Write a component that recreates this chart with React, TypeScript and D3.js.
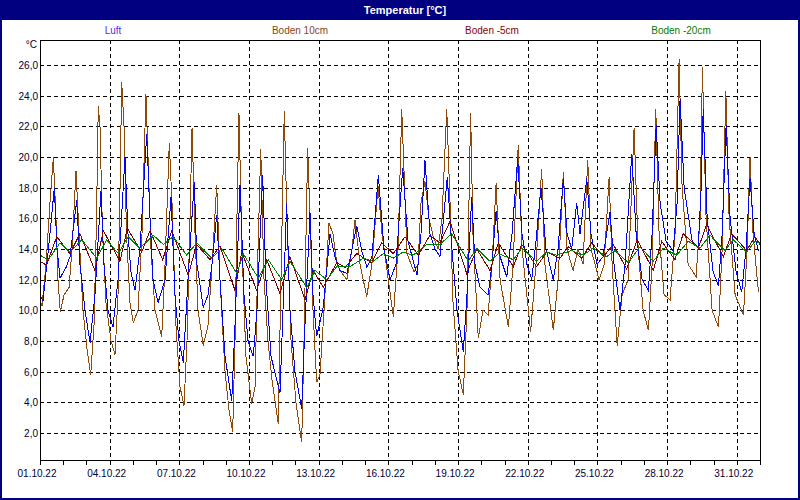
import React, { useEffect, useRef } from 'react';
import * as d3 from 'd3';

// start of the period: 01.10.22 00:00 (UTC to avoid DST jumps)
const startMs = Date.UTC(2022, 9, 1);
const days = 31;

const seriesNames = ['Luft', 'Boden 10cm', 'Boden -5cm', 'Boden -20cm'];
const seriesColors = ['#0000ff', '#8f4a08', '#800000', '#008000'];
const legendColors = ['#5a2ee6', '#8b4513', '#8b0000', '#008000'];
const yTicks = [2, 4, 6, 8, 10, 12, 14, 16, 18, 20, 22, 24, 26];
const xLabelDays = [0, 3, 6, 9, 12, 15, 18, 21, 24, 27, 30];

// [hours since 01.10.22 00:00, °C]
const luft: [number, number][] = [
  [0, 11.0], [3.1, 10.6], [10.3, 15], [14.8, 18.0], [17.6, 14], [20.7, 12.1], [26.9, 12.8], [31, 13.5],
  [37.9, 17.2], [41.3, 13], [46.5, 10], [51.7, 7.9], [56.8, 11], [63, 17.8], [66.1, 13], [70.3, 10],
  [75.4, 8.9], [80.6, 12], [87.8, 20.0], [90.9, 15], [94, 12.5], [98.2, 11.3], [103.3, 14], [110.3, 21.5],
  [113.7, 16], [116.8, 12], [122, 10.5], [129.2, 12], [135.4, 17.4], [139.5, 11], [143.6, 8], [148.1, 6.6],
  [152.9, 12], [159.4, 18.4], [162.2, 13], [168.7, 10.2], [173.6, 11], [177.7, 13], [182.6, 16.2], [186, 12],
  [191.2, 7], [198.1, 4.1], [201.5, 9], [206.7, 18.2], [210.8, 11], [215, 8], [220.4, 7.0], [224.2, 10],
  [230.1, 18.8], [233.5, 12], [238.7, 7], [248, 4.6], [251.1, 10], [254.9, 17.0], [258.3, 10], [263.5, 6],
  [270.4, 3.6], [273.8, 9], [279, 16.4], [282.1, 11], [285.9, 8.3], [292.7, 10.2], [299.7, 15.0], [304.8, 13.5],
  [310, 12.6], [317.2, 12.4], [322.4, 14], [327.3, 15.5], [332.7, 13.8], [337.9, 12.8], [343, 13.5], [349.6, 18.8],
  [355.5, 14], [361.7, 12.0], [367.9, 13], [374.8, 19.3], [380.3, 14.5], [389.6, 12.3], [393.7, 15], [397.8, 19.8],
  [403, 15], [408.2, 14.0], [413.3, 13.5], [420.9, 18.7], [425.7, 14], [430.9, 10], [437.4, 7.3], [441.2, 11],
  [446.1, 17.4], [449.5, 13], [454.7, 11.5], [463, 11.0], [467.1, 13], [471.3, 16.5], [475.4, 13.5], [482.3, 12.2],
  [487.8, 15], [493.6, 19.9], [498.1, 15], [503.2, 13], [508.1, 12.0], [512.5, 14.5], [517.7, 18.0], [522.9, 14],
  [530.4, 12.0], [535.3, 14], [540.8, 18.6], [544.6, 15], [549.4, 14.0], [554.6, 17.0], [558, 15.0], [565, 18.6],
  [569.4, 15], [575.6, 13.0], [581.8, 13.5], [589, 16.4], [593.2, 13], [599.4, 10.0], [604.6, 13], [611.5, 20.2],
  [616, 15], [622.2, 12], [628.7, 11.3], [632.5, 15], [636.7, 22.1], [640.8, 17], [647, 14.5], [654.2, 13.9],
  [658.3, 17], [661.4, 23.8], [665.6, 18], [673.9, 14.5], [680.1, 14.1], [683.2, 18], [685.3, 23.1], [689.4, 16],
  [695.6, 12.5], [701.1, 11.6], [704.9, 15], [709, 22.1], [713.1, 16], [719.3, 12.5], [725.1, 11.2], [729.6, 14],
  [733.7, 18.6], [737.9, 15], [742.4, 13.9],
];

const boden10: [number, number][] = [
  [0, 10.6], [2.1, 10.3], [6.2, 13], [10.3, 17], [13.8, 20.0], [16.5, 16], [18.6, 12], [21, 9.9],
  [24.8, 11], [30, 11.5], [33.1, 14], [37.2, 19.1], [40.3, 15], [44.4, 10], [48.6, 7.5], [52.4, 5.8],
  [55.8, 9], [58.4, 16], [60.2, 23.3], [62, 22], [64.6, 15], [68.2, 10.5], [73.4, 8], [77.5, 7.1],
  [80.6, 11], [82.7, 18], [84.4, 24.9], [86.8, 22], [89.4, 15], [93, 10.5], [96.4, 9.2], [101.3, 10],
  [105.4, 15], [109.5, 24.1], [111.6, 20], [114.7, 14], [118.8, 10], [125.8, 8.3], [129.2, 13], [133.6, 20.9],
  [136.4, 17], [140.5, 9], [144.7, 5], [148.8, 3.8], [151.9, 8], [155, 16], [157.1, 21.9], [160.2, 15],
  [163.3, 10], [168.7, 7.7], [173.6, 9], [178.8, 14], [182.6, 18.2], [186, 12], [191.2, 6], [195.3, 3.5],
  [199.1, 2.1], [201.5, 8], [203.5, 16], [205.6, 22.9], [208.7, 14], [212.8, 7], [218.8, 3.9], [222.2, 5],
  [225.3, 14], [228.1, 20.5], [231.5, 12], [235.6, 8], [239.7, 5.5], [246.2, 2.6], [249, 12], [252.4, 23.0],
  [255.2, 16], [259.4, 8], [264.5, 4], [270.4, 1.4], [272.8, 8], [276.6, 20.6], [279, 16], [282.1, 10],
  [285.9, 5.3], [289.3, 5.8], [293.5, 10], [298.6, 15.7], [302.7, 15], [306.6, 13.1], [310, 12.6], [317.2, 12.0],
  [322.4, 14], [325.5, 15.9], [330.7, 13], [337.6, 10.9], [343, 13], [349.3, 18.1], [353.4, 15], [358.6, 12.6],
  [365.1, 9.6], [370, 14], [373.8, 23.1], [376.2, 19], [379.2, 13.7], [386.5, 12.5], [390.6, 13], [393.7, 17],
  [397.8, 18.4], [401.9, 16], [406.4, 14.8], [411.3, 14], [415.4, 16], [420.3, 23.1], [423.7, 17], [426.8, 10.5],
  [432, 6.1], [437.4, 4.5], [441.2, 10], [445, 22.9], [447.4, 15], [452.9, 8.2], [457.8, 10], [463, 9.7],
  [467.1, 13], [471.3, 18.3], [475.4, 12], [484, 8.9], [488.8, 13], [494.2, 20.8], [498.1, 14], [507, 8.6],
  [512.5, 13], [518.4, 19.2], [521.8, 13], [530.4, 8.7], [535.3, 12], [540.8, 19.0], [544.6, 14], [550.8, 12.6],
  [556, 14], [561.1, 13], [566, 19.8], [569.4, 14], [577.7, 12.0], [582.9, 13], [588.1, 18.7], [591.2, 13],
  [596.4, 7.7], [601.5, 11], [607.7, 12], [613.9, 21.9], [618.1, 14], [623.2, 10], [628.7, 8.7], [632.5, 13],
  [636.3, 23.1], [639.7, 15], [644.9, 11], [651.1, 10.7], [656.2, 15], [660.4, 26.4], [663.5, 18], [669.7, 13],
  [678, 12.2], [682.1, 16], [684.5, 25.85], [688.3, 16], [694.5, 10], [701.1, 8.9], [704.9, 14], [708.7, 24.3],
  [712.1, 16], [718.3, 11], [726.9, 9.7], [730.7, 14], [733.7, 20.0], [736.8, 15], [742.4, 11.2],
];

const boden5: [number, number][] = [
  [0, 13.2], [6.7, 12.95], [17.3, 14.8], [31, 13.7], [41.3, 15.0], [56.8, 12.6], [65.4, 15.2], [82.7, 13.2],
  [90.2, 15.35], [105.1, 13.8], [113.7, 15.2], [126.8, 13.3], [136.1, 15.2], [153.2, 12.3], [161.9, 14.3], [175.7, 13.3],
  [186, 14.2], [201.5, 11.3], [208.4, 13.8], [223.9, 11.3], [234.3, 13.3], [248, 11.1], [258.3, 13.5], [273.8, 10.7],
  [282.4, 12.6], [292.7, 11.5], [306.6, 13.1], [315.2, 12.8], [327.3, 13.7], [342.8, 13.1], [353.1, 14.4], [365.1, 13.7],
  [377.2, 14.8], [390.9, 13.6], [403, 14.9], [413.3, 14.4], [423.7, 15.8], [440.9, 12.4], [451.3, 14.0], [465, 12.6],
  [473.6, 14.4], [489.1, 12.85], [497.8, 14.3], [513.2, 12.85], [523.6, 13.8], [537.3, 13.4], [545.9, 14.15], [559.7, 13.4],
  [570.1, 14.4], [582.1, 13.5], [592.4, 14.3], [606.2, 12.7], [617.2, 14.6], [633.7, 12.6], [642.4, 14.5], [656.1, 13.3],
  [664.7, 15.0], [680.2, 14.05], [688.9, 15.6], [706.1, 13.5], [714.7, 15.0], [730.2, 13.9], [738.8, 14.8], [744, 14.3],
];

const boden20: [number, number][] = [
  [0, 13.6], [8.6, 13.3], [20.7, 14.4], [31, 13.8], [43.1, 14.6], [58.6, 13.4], [68.9, 14.6], [80.9, 13.7],
  [91.2, 14.8], [103.3, 14.05], [117.1, 14.9], [127.4, 14.3], [137.7, 14.8], [151.6, 13.6], [161.9, 14.4], [177.4, 13.4],
  [187.8, 14.05], [203.3, 12.4], [210.1, 13.7], [225.6, 12.1], [235.9, 13.3], [249.8, 12.0], [258.3, 13.2], [275.6, 11.5],
  [284.2, 12.6], [296.3, 12.0], [306.6, 12.85], [320.3, 12.85], [334.1, 13.4], [344.4, 13.2], [354.7, 13.7], [365.1, 13.4],
  [375.1, 13.8], [385.4, 13.6], [399.6, 14.3], [413.3, 14.3], [425.4, 15.0], [442.6, 13.2], [451.3, 14.05], [465, 13.2],
  [473.6, 13.7], [489.1, 13.3], [497.8, 14.05], [513.2, 13.2], [523.6, 13.8], [533.9, 13.6], [549.4, 13.9], [561.4, 13.6],
  [571.7, 14.05], [585.6, 13.5], [594.2, 13.9], [607.9, 13.1], [620, 14.15], [633.7, 13.2], [644.1, 14.05], [657.9, 13.6],
  [669.9, 14.5], [682, 14.05], [692.3, 14.9], [707.8, 13.9], [716.4, 14.6], [730.2, 13.8], [738.8, 14.5], [744, 14.4],
];

const seriesData = [boden10, luft, boden5, boden20];
const seriesColorOrder = [seriesColors[1], seriesColors[0], seriesColors[2], seriesColors[3]];

const App: React.FC = () => {
  const svgRef = useRef<SVGSVGElement | null>(null);
  const width = 800;
  const height = 500;

  useEffect(() => {
    if (!svgRef.current) return;
    const svg = d3.select(svgRef.current);
    svg.selectAll('*').remove();

    const plot = { left: 40, right: 760, top: 40, bottom: 460 };
    const font = '"Liberation Sans", Arial, sans-serif';
    const textColor = '#000033';

    const hourDate = (h: number) => new Date(startMs + h * 3600 * 1000);

    const x = d3
      .scaleUtc()
      .domain([hourDate(0), hourDate(days * 24)])
      .range([plot.left, plot.right]);

    const y = d3
      .scaleLinear()
      .domain([0.24, 27.63])
      .range([plot.bottom, plot.top]);

    const px = (v: number) => Math.round(v) + 0.5;

    // frame + title bar
    svg.append('rect')
      .attr('x', 1).attr('y', 1).attr('width', width - 2).attr('height', height - 2)
      .attr('fill', '#ffffff').attr('stroke', '#000080').attr('stroke-width', 2);
    svg.append('rect')
      .attr('x', 0).attr('y', 0).attr('width', width).attr('height', 20)
      .attr('fill', '#000080');
    svg.append('text')
      .attr('x', 405).attr('y', 14)
      .attr('text-anchor', 'middle')
      .style('font-family', font).style('font-size', '11px').style('font-weight', 'bold')
      .style('fill', '#ffffff')
      .text('Temperatur [°C]');

    // legend
    const legendCenters = [113, 300, 492, 681];
    seriesNames.forEach((name, i) => {
      svg.append('text')
        .attr('x', legendCenters[i]).attr('y', 34)
        .attr('text-anchor', 'middle')
        .style('font-family', font).style('font-size', '10px')
        .style('fill', legendColors[i])
        .text(name);
    });

    // grid
    const grid = svg.append('g').attr('stroke', '#000').attr('stroke-width', 1)
      .attr('stroke-dasharray', '4,3').attr('shape-rendering', 'crispEdges');
    yTicks.forEach((v) => {
      grid.append('line')
        .attr('x1', plot.left).attr('x2', plot.right)
        .attr('y1', px(y(v))).attr('y2', px(y(v)));
    });
    xLabelDays.slice(1).forEach((d) => {
      const xx = px(x(hourDate(d * 24)));
      grid.append('line')
        .attr('x1', xx).attr('x2', xx)
        .attr('y1', plot.top).attr('y2', plot.bottom);
    });

    // series
    const line = d3.line<[number, number]>()
      .x((d) => x(hourDate(d[0])))
      .y((d) => y(d[1]));

    seriesData.forEach((data, i) => {
      svg.append('path')
        .datum(data)
        .attr('fill', 'none')
        .attr('stroke', seriesColorOrder[i])
        .attr('stroke-width', 1)
        .attr('shape-rendering', 'crispEdges')
        .attr('d', line);
    });

    // plot border
    svg.append('rect')
      .attr('x', plot.left + 0.5).attr('y', plot.top + 0.5)
      .attr('width', plot.right - plot.left).attr('height', plot.bottom - plot.top)
      .attr('fill', 'none').attr('stroke', '#000').attr('stroke-width', 1)
      .attr('shape-rendering', 'crispEdges');

    // x axis: a tick every day, a label every third day
    const dayTicks = d3.range(0, days + 1);
    svg.append('g')
      .attr('stroke', '#000').attr('shape-rendering', 'crispEdges')
      .selectAll('line')
      .data(dayTicks)
      .join('line')
      .attr('x1', (d) => px(x(hourDate(d * 24))))
      .attr('x2', (d) => px(x(hourDate(d * 24))))
      .attr('y1', plot.bottom).attr('y2', plot.bottom + 5);

    const fmt = d3.utcFormat('%d.%m.%y');
    svg.append('g')
      .selectAll('text')
      .data(xLabelDays)
      .join('text')
      .attr('x', (d) => x(hourDate(d * 24)) - 3)
      .attr('y', 477)
      .attr('text-anchor', 'middle')
      .style('font-family', font).style('font-size', '10px')
      .style('fill', textColor)
      .text((d) => fmt(hourDate(d * 24)));

    // y labels
    const yFmt = (v: number) => v.toFixed(1).replace('.', ',');
    svg.append('g')
      .selectAll('text')
      .data(yTicks)
      .join('text')
      .attr('x', 38)
      .attr('y', (d) => y(d) + 4)
      .attr('text-anchor', 'end')
      .style('font-family', font).style('font-size', '10px')
      .style('fill', textColor)
      .text((d) => yFmt(d));

    svg.append('text')
      .attr('x', 37).attr('y', 48)
      .attr('text-anchor', 'end')
      .style('font-family', font).style('font-size', '10px')
      .style('fill', textColor)
      .text('°C');
  }, []);

  return (
    <svg
      ref={svgRef}
      width={width}
      height={height}
      style={{ position: 'absolute', left: 0, top: 0, display: 'block' }}
    />
  );
};

export default App;
